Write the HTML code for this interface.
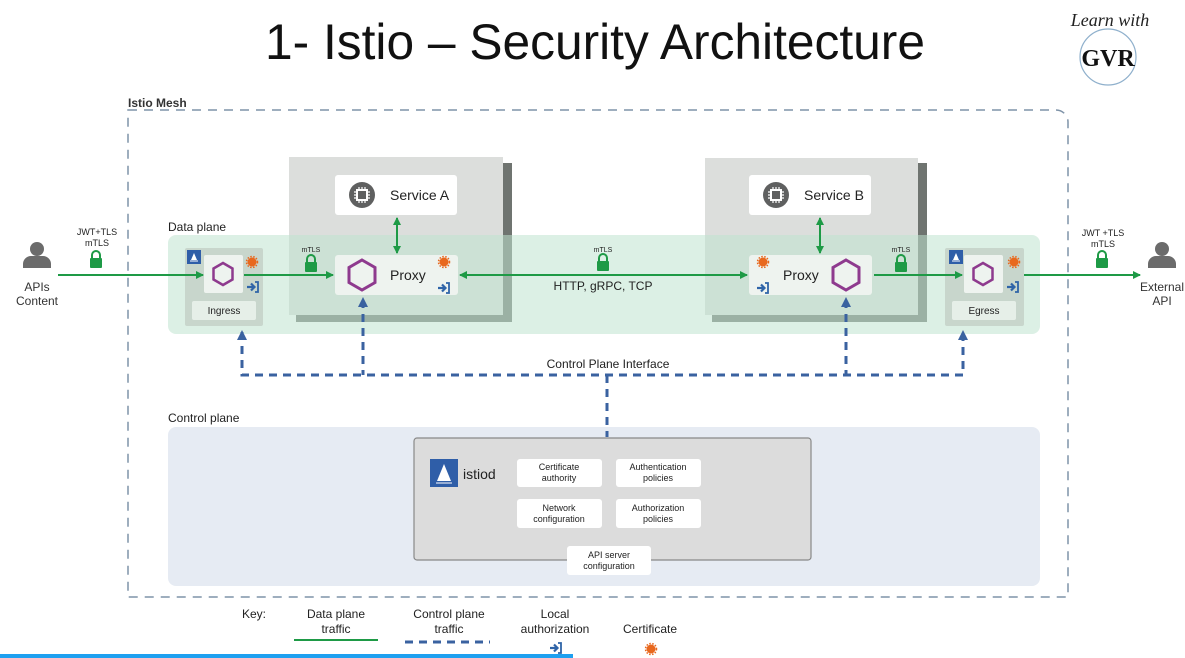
<!DOCTYPE html>
<html><head><meta charset="utf-8"><style>
body{margin:0;background:#fff;width:1185px;height:658px;overflow:hidden}
svg{display:block;font-family:"Liberation Sans",sans-serif}
</style></head><body>
<svg width="1185" height="658" viewBox="0 0 1185 658">
<defs>
<marker id="ga" markerWidth="8" markerHeight="8" refX="7" refY="4" orient="auto-start-reverse" markerUnits="userSpaceOnUse"><path d="M0,0 L8,4 L0,8z" fill="#1e9a46"/></marker>
<g id="lock"><rect x="-6" y="-2" width="12" height="10" rx="1" fill="#1e9a46"/><path d="M-4,-2 v-3 a4,4 0 0 1 8,0 v3" stroke="#1e9a46" stroke-width="2" fill="none"/></g>
<g id="hexL"><polygon points="0,-15 13,-7.5 13,7.5 0,15 -13,7.5 -13,-7.5" fill="none" stroke="#8e3a8e" stroke-width="3"/></g>
<g id="hexS"><polygon points="0,-11 9.5,-5.5 9.5,5.5 0,11 -9.5,5.5 -9.5,-5.5" fill="none" stroke="#8e3a8e" stroke-width="2.5"/></g>
<g id="cert"><circle r="4.5" fill="#e8681e"/><circle r="5.5" fill="none" stroke="#e8681e" stroke-width="1.5" stroke-dasharray="1.5 1.5"/></g>
<g id="auth"><path d="M-6,0 h6 M-2,-3.5 L1.5,0 L-2,3.5" stroke="#2f64a8" stroke-width="2.2" fill="none"/><path d="M2,-5 h3 v10 h-3" stroke="#2f64a8" stroke-width="1.8" fill="none"/></g>
<g id="chip"><circle r="13" fill="#5f6060"/><rect x="-5" y="-5" width="10" height="10" fill="none" stroke="#fff" stroke-width="2"/><path d="M-8,-3h3M-8,0h3M-8,3h3M5,-3h3M5,0h3M5,3h3M-3,-8v3M0,-8v3M3,-8v3M-3,5v3M0,5v3M3,5v3" stroke="#fff" stroke-width="1.2"/></g>
<g id="sail"><rect x="-7" y="-7" width="14" height="14" fill="#2f5ea8"/><path d="M0,-4 L3,3 H-3z" fill="#fff"/><path d="M-4,4 h8" stroke="#fff" stroke-width="1"/></g>
<g id="person"><circle cy="-9" r="7" fill="#6b6b6b"/><path d="M-14,10 v-4 a8,8 0 0 1 8,-8 h12 a8,8 0 0 1 8,8 v4z" fill="#6b6b6b"/></g>
</defs>

<text x="595" y="59" text-anchor="middle" font-size="50" fill="#111" textLength="660" lengthAdjust="spacingAndGlyphs">1- Istio – Security Architecture</text>
<text x="1110" y="26" text-anchor="middle" font-family="Liberation Serif,serif" font-style="italic" font-size="18" fill="#222">Learn with</text>
<circle cx="1108" cy="57" r="28" fill="#fff" stroke="#8fb0cc" stroke-width="1.2"/>
<text x="1108" y="66" text-anchor="middle" font-family="Liberation Serif,serif" font-weight="bold" font-size="24" fill="#111">GVR</text>

<path d="M128,110 H1056 a12,12 0 0 1 12,12 V597 H128 Z" fill="none" stroke="#7f93a8" stroke-width="1.5" stroke-dasharray="9 7"/>
<text x="128" y="107" font-size="12" font-weight="bold" fill="#333">Istio Mesh</text>

<rect x="296" y="163" width="216" height="159" fill="#6f7470"/>
<rect x="289" y="157" width="214" height="158" fill="#dcdedc"/>
<rect x="712" y="163" width="215" height="159" fill="#6f7470"/>
<rect x="705" y="158" width="213" height="157" fill="#dcdedc"/>

<rect x="168" y="235" width="872" height="99" rx="8" fill="#bfe3cf" opacity="0.55"/>
<text x="168" y="231" font-size="12" fill="#222">Data plane</text>

<rect x="335" y="175" width="122" height="40" rx="3" fill="#fff"/>
<use href="#chip" x="362" y="195"/>
<text x="390" y="200" font-size="14" fill="#222">Service A</text>
<rect x="749" y="175" width="122" height="40" rx="3" fill="#fff"/>
<use href="#chip" x="776" y="195"/>
<text x="804" y="200" font-size="14" fill="#222">Service B</text>

<rect x="335" y="255" width="123" height="40" rx="3" fill="#eef3ef"/>
<use href="#hexL" x="362" y="275"/>
<text x="390" y="280" font-size="14" fill="#222">Proxy</text>
<use href="#cert" x="444" y="262"/><use href="#auth" x="444" y="288"/>
<rect x="749" y="255" width="123" height="40" rx="3" fill="#eef3ef"/>
<use href="#hexL" x="846" y="275"/>
<text x="783" y="280" font-size="14" fill="#222">Proxy</text>
<use href="#cert" x="763" y="262"/><use href="#auth" x="763" y="288"/>

<rect x="185" y="248" width="78" height="78" rx="2" fill="#c8d6cc"/>
<rect x="204" y="255" width="39" height="38" rx="2" fill="#eef3ef"/>
<use href="#hexS" x="223" y="274"/>
<rect x="192" y="301" width="64" height="19" rx="2" fill="#e6efe8"/>
<text x="224" y="314" text-anchor="middle" font-size="10" fill="#222">Ingress</text>
<use href="#sail" x="194" y="257"/><use href="#cert" x="252" y="262"/><use href="#auth" x="253" y="287"/>

<rect x="945" y="248" width="79" height="78" rx="2" fill="#c8d6cc"/>
<rect x="964" y="255" width="39" height="38" rx="2" fill="#eef3ef"/>
<use href="#hexS" x="983" y="274"/>
<rect x="952" y="301" width="64" height="19" rx="2" fill="#e6efe8"/>
<text x="984" y="314" text-anchor="middle" font-size="10" fill="#222">Egress</text>
<use href="#sail" x="956" y="257"/><use href="#cert" x="1014" y="262"/><use href="#auth" x="1013" y="287"/>

<g stroke="#1e9a46" stroke-width="2" fill="none">
<line x1="58" y1="275" x2="203" y2="275" marker-end="url(#ga)"/>
<line x1="244" y1="275" x2="333" y2="275" marker-end="url(#ga)"/>
<line x1="460" y1="275" x2="747" y2="275" marker-start="url(#ga)" marker-end="url(#ga)"/>
<line x1="874" y1="275" x2="962" y2="275" marker-end="url(#ga)"/>
<line x1="1024" y1="275" x2="1140" y2="275" marker-end="url(#ga)"/>
<line x1="397" y1="218" x2="397" y2="253" marker-start="url(#ga)" marker-end="url(#ga)"/>
<line x1="820" y1="218" x2="820" y2="253" marker-start="url(#ga)" marker-end="url(#ga)"/>
</g>
<use href="#lock" x="96" y="260"/><use href="#lock" x="311" y="264"/><use href="#lock" x="603" y="263"/><use href="#lock" x="901" y="264"/><use href="#lock" x="1102" y="260"/>
<g font-size="9" fill="#222" text-anchor="middle">
<text x="97" y="235">JWT+TLS</text><text x="97" y="246">mTLS</text>
<text x="311" y="252" font-size="7">mTLS</text><text x="603" y="252" font-size="7">mTLS</text><text x="901" y="252" font-size="7">mTLS</text>
<text x="1103" y="236">JWT +TLS</text><text x="1103" y="247">mTLS</text>
</g>
<text x="603" y="290" text-anchor="middle" font-size="12" fill="#222">HTTP, gRPC, TCP</text>
<use href="#person" x="37" y="258"/>
<text x="37" y="291" text-anchor="middle" font-size="12" fill="#333">APIs</text>
<text x="37" y="305" text-anchor="middle" font-size="12" fill="#333">Content</text>
<use href="#person" x="1162" y="258"/>
<text x="1162" y="291" text-anchor="middle" font-size="12" fill="#333">External</text>
<text x="1162" y="305" text-anchor="middle" font-size="12" fill="#333">API</text>

<rect x="168" y="427" width="872" height="159" rx="8" fill="#e6ebf3"/>
<text x="168" y="422" font-size="12" fill="#222">Control plane</text>
<g stroke="#3a62a0" stroke-width="3" fill="none" stroke-dasharray="8 6">
<path d="M242,332 V375 H963 V332"/>
<line x1="363" y1="300" x2="363" y2="375"/>
<line x1="846" y1="300" x2="846" y2="375"/>
<line x1="607" y1="375" x2="607" y2="437"/>
</g>
<g fill="#3a62a0">
<path d="M237,340 L242,330 L247,340z"/><path d="M358,307 L363,297 L368,307z"/><path d="M841,307 L846,297 L851,307z"/><path d="M958,340 L963,330 L968,340z"/>
</g>
<text x="608" y="368" text-anchor="middle" font-size="12" fill="#222">Control Plane Interface</text>

<rect x="414" y="438" width="397" height="122" rx="3" fill="#dcdcdc" stroke="#888" stroke-width="1.2"/>
<rect x="430" y="459" width="28" height="28" fill="#2f5ea8"/>
<path d="M444,464 L451,481 H437z" fill="#fff"/><path d="M436,483 h16" stroke="#fff"/>
<text x="463" y="479" font-size="14" fill="#222">istiod</text>
<g font-size="9" fill="#222" text-anchor="middle">
<rect x="517" y="459" width="85" height="28" rx="3" fill="#fff"/><text x="559" y="470">Certificate</text><text x="559" y="481">authority</text>
<rect x="616" y="459" width="85" height="28" rx="3" fill="#fff"/><text x="658" y="470">Authentication</text><text x="658" y="481">policies</text>
<rect x="517" y="499" width="85" height="29" rx="3" fill="#fff"/><text x="559" y="511">Network</text><text x="559" y="522">configuration</text>
<rect x="616" y="499" width="85" height="29" rx="3" fill="#fff"/><text x="658" y="511">Authorization</text><text x="658" y="522">policies</text>
<rect x="567" y="546" width="84" height="29" rx="3" fill="#fff"/><text x="609" y="558">API server</text><text x="609" y="569">configuration</text>
</g>

<g font-size="12" fill="#222" text-anchor="middle">
<text x="254" y="618">Key:</text>
<text x="336" y="618">Data plane</text><text x="336" y="633">traffic</text>
<text x="449" y="618">Control plane</text><text x="449" y="633">traffic</text>
<text x="555" y="618">Local</text><text x="555" y="633">authorization</text>
<text x="650" y="633">Certificate</text>
</g>
<line x1="294" y1="640" x2="378" y2="640" stroke="#1e9a46" stroke-width="2"/>
<line x1="405" y1="642" x2="490" y2="642" stroke="#3a62a0" stroke-width="3" stroke-dasharray="8 6"/>
<use href="#auth" x="556" y="648"/>
<use href="#cert" x="651" y="649"/>
<rect x="0" y="654" width="573" height="4" fill="#1ea0f0"/>
</svg>
</body></html>
